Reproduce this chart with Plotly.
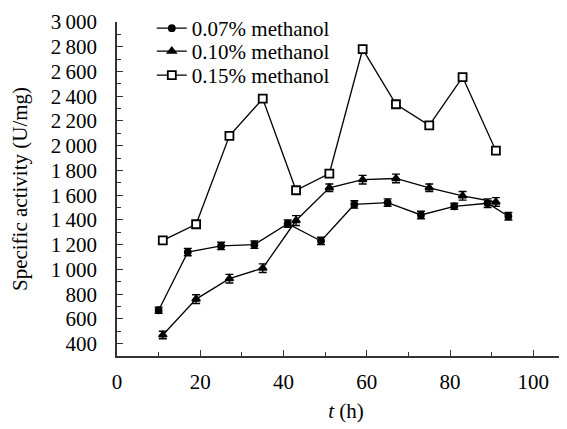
import plotly.graph_objects as go

# Data
t_007 = [10, 17, 25, 33, 41, 49, 57, 65, 73, 81, 89, 94]
v_007 = [670, 1140, 1190, 1200, 1370, 1230, 1525, 1540, 1440, 1510, 1535, 1430]
e_007 = [25, 30, 30, 30, 30, 30, 30, 30, 30, 25, 35, 30]

t_010 = [11, 19, 27, 35, 43, 51, 59, 67, 75, 83, 91]
v_010 = [470, 760, 925, 1010, 1395, 1660, 1725, 1735, 1660, 1595, 1545]
e_010 = [30, 35, 35, 35, 40, 30, 35, 35, 30, 35, 35]

t_015 = [11, 19, 27, 35, 43, 51, 59, 67, 75, 83, 91]
v_015 = [1235, 1365, 2080, 2380, 1640, 1775, 2780, 2335, 2165, 2555, 1960]
e_015 = [25, 25, 25, 30, 25, 25, 25, 25, 20, 25, 30]

names = ["0.07% methanol", "0.10% methanol", "0.15% methanol"]

y_tickvals = [400, 600, 800, 1000, 1200, 1400, 1600, 1800, 2000, 2200, 2400, 2600, 2800, 3000]
y_ticktext = ["400", "600", "800", "1\u2009000", "1\u2009200", "1\u2009400", "1\u2009600",
              "1\u2009800", "2\u2009000", "2\u2009200", "2\u2009400", "2\u2009600", "2\u2009800", "3\u2009000"]
x_tickvals = [0, 20, 40, 60, 80, 100]

FONT = "Liberation Serif"
FS = 21

fig = go.Figure()

def add(t, v, e, name, symbol, fill, size, legend):
    fig.add_trace(go.Scatter(
        x=t, y=v, name=name, mode="lines+markers", legend=legend,
        line=dict(color="black", width=1.3),
        marker=dict(symbol=symbol, size=size,
                    color=fill, line=dict(color="black", width=1.8)),
        error_y=dict(type="data", array=e, visible=True, color="black", thickness=1.4, width=4),
    ))

add(t_007, v_007, e_007, names[0], "circle", "black", 6, "legend")
add(t_010, v_010, e_010, names[1], "triangle-up", "black", 7, "legend2")
add(t_015, v_015, e_015, names[2], "square", "white", 8, "legend3")

axis_common = dict(
    showgrid=False, zeroline=False, showline=True, linecolor="#333", linewidth=1.5,
    ticks="inside", tickcolor="#333", tickwidth=1.2, ticklen=6, automargin=False,
    tickfont=dict(family=FONT, size=FS, color="black"),
)

fig.update_xaxes(
    range=[0, 110], tickvals=x_tickvals, ticklabelstandoff=6,
    minor=dict(ticks="inside", dtick=10, tick0=0, ticklen=4, tickcolor="#333", tickwidth=1.2),
    title=dict(text="<i>t</i> (h)", font=dict(family=FONT, size=FS, color="black"), standoff=10),
    **axis_common,
)
fig.update_yaxes(
    range=[300, 3000], tickvals=y_tickvals, ticktext=y_ticktext, ticklabelstandoff=14,
    minor=dict(ticks="inside", dtick=100, tick0=0, ticklen=4, tickcolor="#333", tickwidth=1.2),
    title=dict(text="Specific activity (U/mg)", font=dict(family=FONT, size=FS, color="black"), standoff=22),
    **axis_common,
)

leg = dict(x=0.076, xanchor="left", yanchor="middle", bgcolor="rgba(0,0,0,0)",
           font=dict(family=FONT, size=FS), itemwidth=30)

# page body has an 8px default margin, so margins are offset by it
fig.update_layout(
    width=567, height=429,
    margin=dict(l=109, r=0, t=9, b=81),
    plot_bgcolor="white", paper_bgcolor="white",
    font=dict(family=FONT, size=FS, color="black"),
    legend=dict(y=0.982, **leg),
    legend2=dict(y=0.912, **leg),
    legend3=dict(y=0.840, **leg),
    showlegend=True,
)

fig.write_html("out.html")
